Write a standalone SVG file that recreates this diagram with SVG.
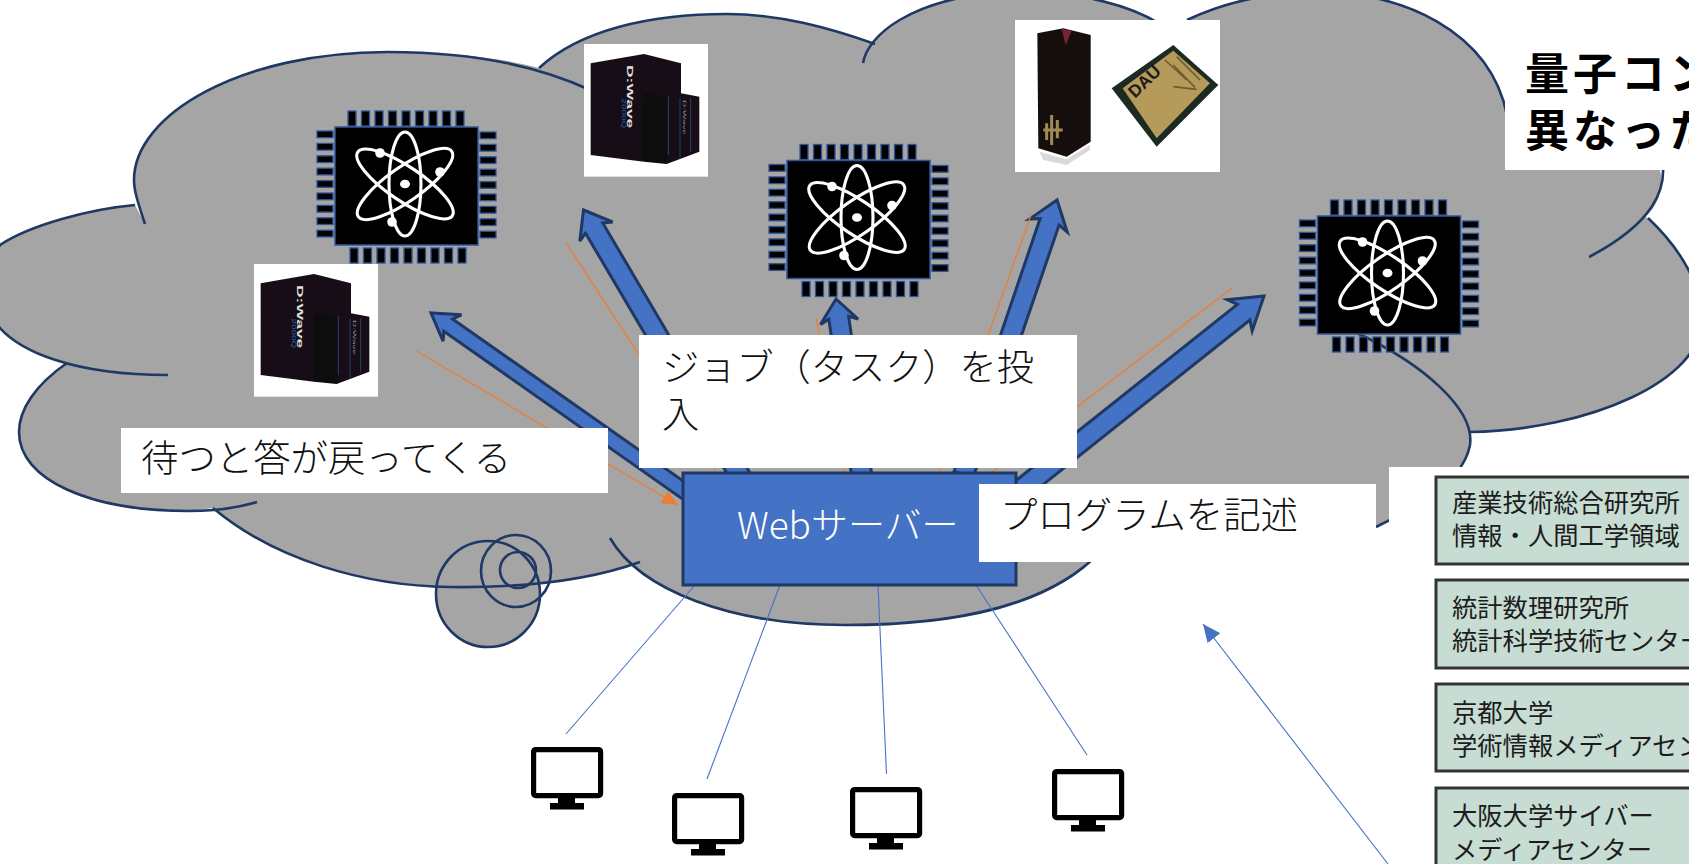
<svg xmlns="http://www.w3.org/2000/svg" width="1689" height="864" viewBox="0 0 1689 864">
<style>
.cl{fill:none;stroke:#1f3864;stroke-width:2.6}
.lf{fill:#a5a5a5}
.pin{fill:#000;stroke:#2f5597;stroke-width:1.3}
.orb{fill:none;stroke:#fff;stroke-width:3.1}
.blk{fill:#4472c4;stroke:#1f3864;stroke-width:3}
.or{fill:none;stroke:#ed7d31;stroke-width:1.3}
.th{fill:none;stroke:#4472c4;stroke-width:1.1}
.box{fill:#fff}
.lb{font-family:"Noto Sans CJK JP","Noto Sans",sans-serif;font-weight:300;font-size:37.4px;fill:#111}
.tb{fill:#c7dcd3;stroke:#333;stroke-width:3}
.tt{font-family:"Noto Sans CJK JP","Noto Sans",sans-serif;font-size:25.3px;fill:#1c1c1c}
.mf{fill:#fff;stroke:#000;stroke-width:5.2}
</style>
<defs>
<marker id="oh" markerUnits="userSpaceOnUse" markerWidth="18" markerHeight="16" refX="16" refY="7" orient="auto"><path d="M0,0L16,7L0,14Z" fill="#ed7d31"/></marker>
<marker id="bh" markerUnits="userSpaceOnUse" markerWidth="20" markerHeight="18" refX="18" refY="8" orient="auto"><path d="M0,0L18,8L0,16Z" fill="#4472c4"/></marker>
<filter id="soft" x="-5%" y="-5%" width="110%" height="110%"><feGaussianBlur stdDeviation="1.6"/></filter>
<g id="chip">
<rect x="-71.5" y="-59" width="143" height="118" fill="#000" stroke="#2f5597" stroke-width="1.5"/>
<g class="pin">
<rect x="-58.5" y="-75" width="8" height="15"/><rect x="-45" y="-75" width="8" height="15"/><rect x="-31.5" y="-75" width="8" height="15"/><rect x="-18" y="-75" width="8" height="15"/><rect x="-4.5" y="-75" width="8" height="15"/><rect x="9" y="-75" width="8" height="15"/><rect x="22.5" y="-75" width="8" height="15"/><rect x="36" y="-75" width="8" height="15"/><rect x="49.5" y="-75" width="8" height="15"/>
<rect x="-56.5" y="62" width="8" height="15"/><rect x="-43" y="62" width="8" height="15"/><rect x="-29.5" y="62" width="8" height="15"/><rect x="-16" y="62" width="8" height="15"/><rect x="-2.5" y="62" width="8" height="15"/><rect x="11" y="62" width="8" height="15"/><rect x="24.5" y="62" width="8" height="15"/><rect x="38" y="62" width="8" height="15"/><rect x="51.5" y="62" width="8" height="15"/>
<rect x="-89.5" y="-55" width="16" height="6.7"/><rect x="-89.5" y="-42.6" width="16" height="6.7"/><rect x="-89.5" y="-30.2" width="16" height="6.7"/><rect x="-89.5" y="-17.8" width="16" height="6.7"/><rect x="-89.5" y="-5.4" width="16" height="6.7"/><rect x="-89.5" y="7" width="16" height="6.7"/><rect x="-89.5" y="19.4" width="16" height="6.7"/><rect x="-89.5" y="31.8" width="16" height="6.7"/><rect x="-89.5" y="44.2" width="16" height="6.7"/>
<rect x="73.5" y="-54" width="16" height="6.7"/><rect x="73.5" y="-41.6" width="16" height="6.7"/><rect x="73.5" y="-29.2" width="16" height="6.7"/><rect x="73.5" y="-16.8" width="16" height="6.7"/><rect x="73.5" y="-4.4" width="16" height="6.7"/><rect x="73.5" y="8" width="16" height="6.7"/><rect x="73.5" y="20.4" width="16" height="6.7"/><rect x="73.5" y="32.8" width="16" height="6.7"/><rect x="73.5" y="45.2" width="16" height="6.7"/>
</g>
<ellipse class="orb" cx="-1.5" cy="-2" rx="16" ry="52"/>
<ellipse class="orb" cx="-1.5" cy="-2" rx="57" ry="17" transform="rotate(34 -1.5 -2)"/>
<ellipse class="orb" cx="-1.5" cy="-2" rx="57" ry="17" transform="rotate(-35 -1.5 -2)"/>
<ellipse cx="-1.5" cy="-2" rx="5" ry="4.3" fill="#fff"/>
<circle cx="-26.5" cy="-33" r="4.8" fill="#fff"/><circle cx="33.5" cy="-14" r="4.8" fill="#fff"/><circle cx="-14.5" cy="36" r="4.8" fill="#fff"/>
</g>
<g id="dwave" transform="scale(0.3333)">
<rect x="42" y="42" width="372" height="398" fill="#fff"/>
<g filter="url(#soft)">
<path d="M62,100L222,72L333,100V190L388,200V365L290,402L222,395L62,375Z" fill="#121012"/>
<path d="M222,190L290,205V400L222,393Z" fill="#0a090a"/>
<path d="M295,198V375M330,205V385M362,205V365" stroke="#2b3f66" stroke-width="3" fill="none"/>
</g>
<text transform="translate(172,105) rotate(90)" font-family="Liberation Sans,sans-serif" font-weight="700" font-size="26" textLength="190" lengthAdjust="spacingAndGlyphs" fill="#e0e0e0">D:Wave</text>
<text transform="translate(156,205) rotate(90)" font-family="Liberation Sans,sans-serif" font-size="17" textLength="90" lengthAdjust="spacingAndGlyphs" fill="#2a62b8">2000Q</text>
<text transform="translate(340,210) rotate(90)" font-family="Liberation Sans,sans-serif" font-size="12" textLength="105" lengthAdjust="spacingAndGlyphs" fill="#9a9a9a">D:Wave</text>
</g>
<g id="monitor">
<rect class="mf" x="2.6" y="2.6" width="67" height="46" rx="2"/>
<rect x="27" y="51" width="17" height="7" fill="#000"/>
<rect x="19" y="56" width="34" height="6.5" fill="#000"/>
</g>
</defs>

<rect width="1689" height="864" fill="#fff"/>

<g id="cloud">
<path class="lf" d="M145,224L134,180C134,115 240,52 388,52C460,52 510,60 539,68C580,30 650,14 727,14C780,14 830,28 875,44L863,63C868,35 910,0 1000,-8C1070,-12 1130,5 1160,24L1187,20C1225,2 1270,-8 1320,-8C1400,-8 1490,30 1507,115L1507,170L1660,170C1665,190 1655,210 1645,216C1680,248 1702,285 1702,320C1702,380 1590,430 1470,432C1472,445 1468,455 1459,470C1440,495 1410,510 1376,527L1300,552L1100,552C1050,605 960,625 845,625C730,625 680,600 638,563C590,580 530,588 450,587C365,586 275,560 213,508L189,511C90,511 19,480 19,432C19,410 35,385 67,363L0,328L-20,300L-20,280L0,245C30,225 90,209 135,205Z"/>
<path class="lf" d="M135,205C90,209 30,225 0,245L-20,280L-20,300L0,328C20,350 70,375 168,375"/>
<path class="lf" d="M863,63C868,35 910,0 1000,-8C1070,-12 1130,5 1160,24"/>
<path class="lf" d="M145,224C137,200 134,190 134,180C134,115 240,52 388,52C460,52 530,62 590,90"/>
<path class="lf" d="M610,538C640,590 730,625 845,625C960,625 1050,605 1100,552"/>
<ellipse class="lf" cx="488" cy="594" rx="52" ry="53"/>
<ellipse class="cl" cx="488" cy="594" rx="52" ry="53"/>
<ellipse cx="516" cy="571" rx="35" ry="36" class="cl"/>
<ellipse cx="518" cy="570" rx="18" ry="18" class="cl"/>
<path class="cl" d="M145,224C137,200 134,190 134,180C134,115 240,52 388,52C460,52 530,62 590,90"/>
<path class="cl" d="M539,68C580,30 650,14 727,14C780,14 830,28 875,44"/>
<path class="cl" d="M863,63C868,35 910,0 1000,-8C1070,-12 1130,5 1160,24"/>
<path class="cl" d="M1187,20C1225,2 1270,-8 1320,-8C1400,-8 1490,30 1507,115"/>
<path class="cl" d="M1660,150C1672,190 1650,225 1589,257"/>
<path class="cl" d="M1648,218C1680,248 1702,285 1702,320C1702,380 1590,430 1470,432"/>
<path class="cl" d="M1357,333C1425,365 1475,410 1470,445C1468,455 1465,460 1459,470C1440,495 1410,510 1376,527"/>
<path class="cl" d="M610,538C640,590 730,625 845,625C960,625 1050,605 1100,552"/>
<path class="cl" d="M213,508C275,560 365,586 450,587C530,588 590,580 640,562"/>
<path class="cl" d="M67,363C35,385 19,410 19,432C19,480 90,511 189,511C215,511 240,507 257,502"/>
<path class="cl" d="M135,205C90,209 30,225 0,245L-20,280L-20,300L0,328C20,350 70,375 168,375"/>
</g>

<g id="qc-chip-1"><use href="#chip" transform="translate(406.5,186)"/></g>
<g id="qc-chip-2"><use href="#chip" transform="translate(858.5,219.5)"/></g>
<g id="qc-chip-3"><use href="#chip" transform="translate(1389,275)"/></g>

<g id="dwave-1"><use href="#dwave" transform="translate(570,30)"/></g>
<g id="dwave-2"><use href="#dwave" transform="translate(240,250)"/></g>

<g id="dau" transform="translate(1000,0) scale(0.3333)">
<rect x="45" y="60" width="615" height="456" fill="#fff"/>
<g filter="url(#soft)">
<path d="M112,100L190,85L272,105V425L200,470L115,445Z" fill="#15110f"/>
<path d="M185,87L215,92L197,135Z" fill="#7a2430"/>
<path d="M118,455L200,478L270,435V450L200,495L130,480Z" fill="#d9d9d9"/>
<path d="M140,370V420M155,345V435M172,360V415M130,390H188" stroke="#a08b55" stroke-width="9" fill="none"/>
<path d="M520,135L655,255L470,440L335,265Z" fill="#1c2a22"/>
<path d="M520,152L630,250L470,415L368,265Z" fill="#b59a5a"/>
<path d="M530,170L600,240M520,195L585,262M520,260L590,268M495,180L560,240" stroke="#6e5c30" stroke-width="5" fill="none"/>
</g>
<text transform="translate(405,296) rotate(-44)" font-family="Liberation Sans,sans-serif" font-weight="700" font-size="52" fill="#1a1a1a">DAU</text>
</g>

<g id="connectors">
<g class="blk">
<polygon transform="translate(431,313) rotate(35.1)" points="0,0 26,16 21,7.5 320,7.5 320,-7.5 21,-7.5 26,-16"/>
<polygon transform="translate(583.5,210) rotate(59.5)" points="0,0 25,19 21,10 310,10 310,-10 21,-10 25,-19"/>
<polygon transform="translate(836,299) rotate(81.7)" points="0,0 23,19 19,10 190,10 190,-10 19,-10 23,-19"/>
<polygon transform="translate(1057,200) rotate(108.8)" points="0,0 27,20 23,10 290,10 290,-10 23,-10 27,-20"/>
<polygon transform="translate(1264,296) rotate(141.5)" points="0,0 31,20 26,10 330,10 330,-10 26,-10 31,-20"/>
</g>
<path class="or" d="M416.5,351L678,505" marker-end="url(#oh)"/>
<path class="or" d="M566,243L716,472"/>
<path class="or" d="M816,317L845,473"/>
<path class="or" d="M1031,215L939,473"/>
<path class="or" d="M1232,288L991,473"/>
<path class="th" d="M695,585L566,734"/>
<path class="th" d="M780,585L707,779"/>
<path class="th" d="M878,585L886.5,774"/>
<path class="th" d="M976,585L1087,755"/>
<path class="th" d="M1388,864L1203,624" marker-end="url(#bh)"/>
</g>

<g id="web-server">
<rect x="683" y="473" width="333" height="112" fill="#4472c4" stroke="#1f3864" stroke-width="3"/>
<text x="737" y="539" font-family="Noto Sans CJK JP,Noto Sans,sans-serif" font-weight="300" font-size="37" fill="#fff">Webサーバー</text>
</g>

<g id="label-wait">
<rect class="box" x="121" y="428" width="487" height="65"/>
<text class="lb" x="141" y="472">待つと答が戻ってくる</text>
</g>
<g id="label-job">
<rect class="box" x="639" y="335" width="438" height="133"/>
<text class="lb" x="662" y="381" style="font-size:37.2px">ジョブ（タスク）を投</text>
<text class="lb" x="662" y="428" style="font-size:37.2px">入</text>
</g>
<g id="label-program">
<rect class="box" x="979" y="484" width="397" height="78"/>
<text class="lb" x="1000" y="529">プログラムを記述</text>
</g>
<g id="title">
<rect class="box" x="1505" y="45" width="184" height="125"/>
<text x="1525" y="90" font-family="Noto Sans CJK JP,sans-serif" font-weight="700" font-size="44" letter-spacing="4" fill="#000">量子コン</text>
<text x="1525" y="147" font-family="Noto Sans CJK JP,sans-serif" font-weight="700" font-size="44" letter-spacing="4" fill="#000">異なった</text>
</g>

<g id="centers">
<rect x="1389" y="467" width="300" height="397" fill="#fff"/>
<g id="center-aist"><rect class="tb" x="1436" y="477" width="270" height="87"/><text class="tt" x="1452" y="512">産業技術総合研究所</text><text class="tt" x="1452" y="545">情報・人間工学領域</text></g>
<g id="center-ism"><rect class="tb" x="1436" y="580" width="270" height="88"/><text class="tt" x="1452" y="617">統計数理研究所</text><text class="tt" x="1452" y="650">統計科学技術センター</text></g>
<g id="center-kyoto"><rect class="tb" x="1436" y="684" width="270" height="87"/><text class="tt" x="1452" y="722">京都大学</text><text class="tt" x="1452" y="755">学術情報メディアセン</text></g>
<g id="center-osaka"><rect class="tb" x="1436" y="788" width="270" height="90"/><text class="tt" x="1452" y="825">大阪大学サイバー</text><text class="tt" x="1452" y="859">メディアセンター</text></g>
</g>

<g id="pc-1"><use href="#monitor" transform="translate(531,747)"/></g>
<g id="pc-2"><use href="#monitor" transform="translate(672,793)"/></g>
<g id="pc-3"><use href="#monitor" transform="translate(850,787)"/></g>
<g id="pc-4"><use href="#monitor" transform="translate(1052,769)"/></g>
</svg>
